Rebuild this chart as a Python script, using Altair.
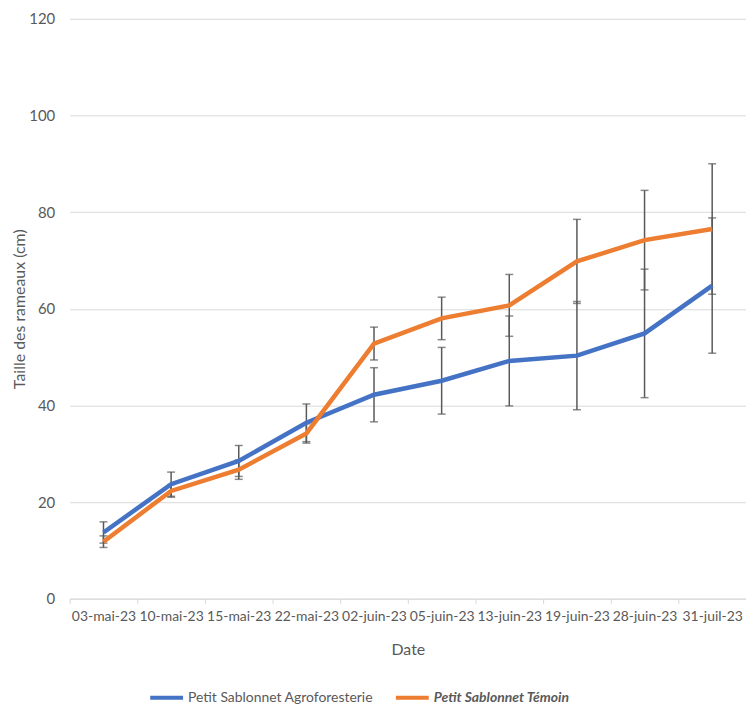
import altair as alt
import pandas as pd

dates = ["03-mai-23", "10-mai-23", "15-mai-23", "22-mai-23", "02-juin-23",
         "05-juin-23", "13-juin-23", "19-juin-23", "28-juin-23", "31-juil-23"]
agro = [13.7, 23.7, 28.5, 36.4, 42.2, 45.1, 49.2, 50.3, 54.9, 64.8]
agro_err = [2.2, 2.5, 3.2, 3.9, 5.6, 6.9, 9.3, 11.2, 13.3, 14.0]
temoin = [11.8, 22.3, 26.7, 34.2, 52.8, 58.0, 60.7, 69.8, 74.2, 76.5]
temoin_err = [1.2, 1.3, 2.0, 2.0, 3.4, 4.4, 6.4, 8.7, 10.3, 13.5]
series_names = ["Petit Sablonnet Agroforesterie", "Petit Sablonnet Témoin"]
colors = ["#4472C4", "#ED7D31"]
y_ticks = [0, 20, 40, 60, 80, 100, 120]

rows = []
for name, vals, errs in [(series_names[0], agro, agro_err), (series_names[1], temoin, temoin_err)]:
    for d, v, e in zip(dates, vals, errs):
        rows.append({"date": d, "series": name, "value": v, "lo": v - e, "hi": v + e})
df = pd.DataFrame(rows)

FONT = "Lato"
GREY = "#595959"

x_enc = alt.X("date:N", sort=dates,
              scale=alt.Scale(paddingInner=0, paddingOuter=0),
              axis=alt.Axis(title="Date", labelAngle=0, tickBand="extent",
                            labelOverlap=False, labelBound=False, labelFlush=False,
                            domainColor="#d9d9d9", tickColor="#d9d9d9", tickSize=5,
                            labelPadding=6, titlePadding=18, titleFontSize=16,
                            grid=False))
y_axis = alt.Axis(title="Taille  des rameaux (cm)", values=y_ticks, domain=False,
                  ticks=False, labelPadding=15, titlePadding=1, titleFontSize=16,
                  labelFontSize=15, gridColor="#d9d9d9")
y_scale = alt.Scale(domain=[0, 120], nice=False)

base = alt.Chart(df)

rules = base.mark_rule(color=GREY, strokeWidth=1.5).encode(
    x=x_enc,
    y=alt.Y("lo:Q", scale=y_scale, axis=y_axis),
    y2="hi:Q",
)
caps_lo = base.mark_tick(color=GREY, thickness=1.5, size=8).encode(
    x=x_enc, y=alt.Y("lo:Q", scale=y_scale, axis=y_axis))
caps_hi = base.mark_tick(color=GREY, thickness=1.5, size=8).encode(
    x=x_enc, y=alt.Y("hi:Q", scale=y_scale, axis=y_axis))


def line_layer(i, lx, weight, style):
    return base.transform_filter(alt.datum.series == series_names[i]).mark_line(
        strokeWidth=4.5
    ).encode(
        x=x_enc,
        y=alt.Y("value:Q", scale=y_scale, axis=y_axis),
        color=alt.Color("series:N",
                        scale=alt.Scale(domain=[series_names[i]], range=[colors[i]]),
                        legend=alt.Legend(orient="none", legendX=lx, legendY=664,
                                          title=None, symbolType="stroke",
                                          symbolSize=1089, symbolStrokeWidth=4,
                                          labelFontSize=14, labelColor=GREY,
                                          labelFont=FONT, labelFontWeight=weight,
                                          labelFontStyle=style, labelOffset=3,
                                          labelLimit=400)),
    )


line_a = line_layer(0, 79, "normal", "normal")
line_t = line_layer(1, 326, "bold", "italic")

chart = alt.layer(rules, caps_lo, caps_hi, line_a, line_t).resolve_scale(
    color="independent"
).properties(
    width=680, height=583,
    padding={"left": 62, "top": 9, "right": 0, "bottom": 105},
    autosize=alt.AutoSizeParams(type="none"),
).configure_view(stroke=None).configure_axis(
    labelFont=FONT, titleFont=FONT, labelFontSize=14, titleFontSize=14,
    labelColor=GREY, titleColor=GREY, titleFontWeight="normal",
)

chart.save("out.html", embed_options={"renderer": "svg", "actions": False})
